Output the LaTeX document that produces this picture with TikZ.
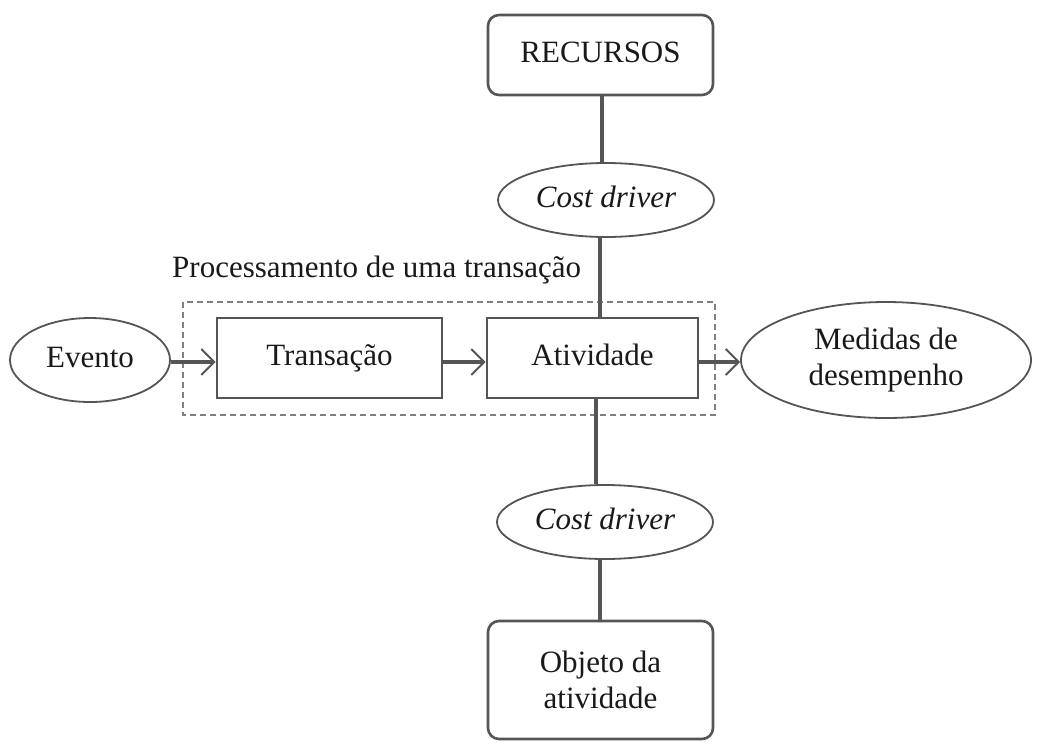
\documentclass[tikz,border=0pt]{standalone}
\usepackage{fontspec}
\setmainfont{Liberation Serif}
\usetikzlibrary{arrows.meta,shapes.geometric}
\definecolor{ln}{HTML}{555555}
\definecolor{dsh}{HTML}{808080}
\begin{document}
\begin{tikzpicture}[x=1pt,y=-1pt,
  txt/.style={font=\fontsize{31}{36}\selectfont, text=black!90, align=center},
  one/.style={text height=21pt, text depth=7pt},
  rbox/.style={txt, draw=ln, line width=2.6pt, rounded corners=11pt, minimum width=225pt, inner sep=0pt},
  sbox/.style={txt, one, draw=ln, line width=2.6pt, inner sep=0pt},
  ell/.style={txt, ellipse, draw=ln, line width=1.8pt, inner sep=0pt},
  conn/.style={draw=ln, line width=3.5pt},
  arr/.style={conn, -{Straight Barb[length=13pt,width=26pt,line width=2pt]}},
  dbox/.style={draw=dsh, line width=2.6pt, dash pattern=on 6pt off 4pt}
]
\useasboundingbox (0,0) rectangle (1038,745);
\fill[white] (0,0) rectangle (1038,745);

\node[rbox, one, minimum height=80pt] (rec) at (600.5,55) {RECURSOS};
\node[ell, one, minimum width=216pt, minimum height=74pt] (cd1) at (606,200) {\itshape Cost driver};
\node[txt, one, anchor=west, inner sep=0pt] (lbl) at (172,270) {Processamento de uma transação};
\node[ell, one, minimum width=160pt, minimum height=84pt] (ev) at (90,360) {Evento};
\node[sbox, minimum width=225pt, minimum height=80pt] (tr) at (329.5,358) {Transação};
\node[sbox, minimum width=211pt, minimum height=80pt] (at) at (592.5,358) {Atividade};
\node[ell, minimum width=290pt, minimum height=116pt] (med) at (886,360) {Medidas de\\desempenho};
\node[ell, one, minimum width=216pt, minimum height=74pt] (cd2) at (605,522) {\itshape Cost driver};
\node[rbox, minimum height=118pt] (obj) at (600.5,680) {Objeto da\\atividade};

\coordinate (d1) at (183,302);
\coordinate (d2) at (715,415);
\draw[dbox] (d1) rectangle (d2);

\draw[conn] (602,95) -- (cd1.north -| 602,0);
\draw[conn] (cd1.south -| 600,0) -- (at.north -| 600,0);
\draw[conn] (at.south -| 596,0) -- (cd2.north -| 596,0);
\draw[conn] (cd2.south -| 600,0) -- (obj.north -| 600,0);
\draw[arr] (ev.east |- 0,362) -- (tr.west |- 0,362);
\draw[arr] (tr.east |- 0,362) -- (at.west |- 0,362);
\draw[arr] (at.east |- 0,362) -- (med.west |- 0,362);
\end{tikzpicture}
\end{document}
